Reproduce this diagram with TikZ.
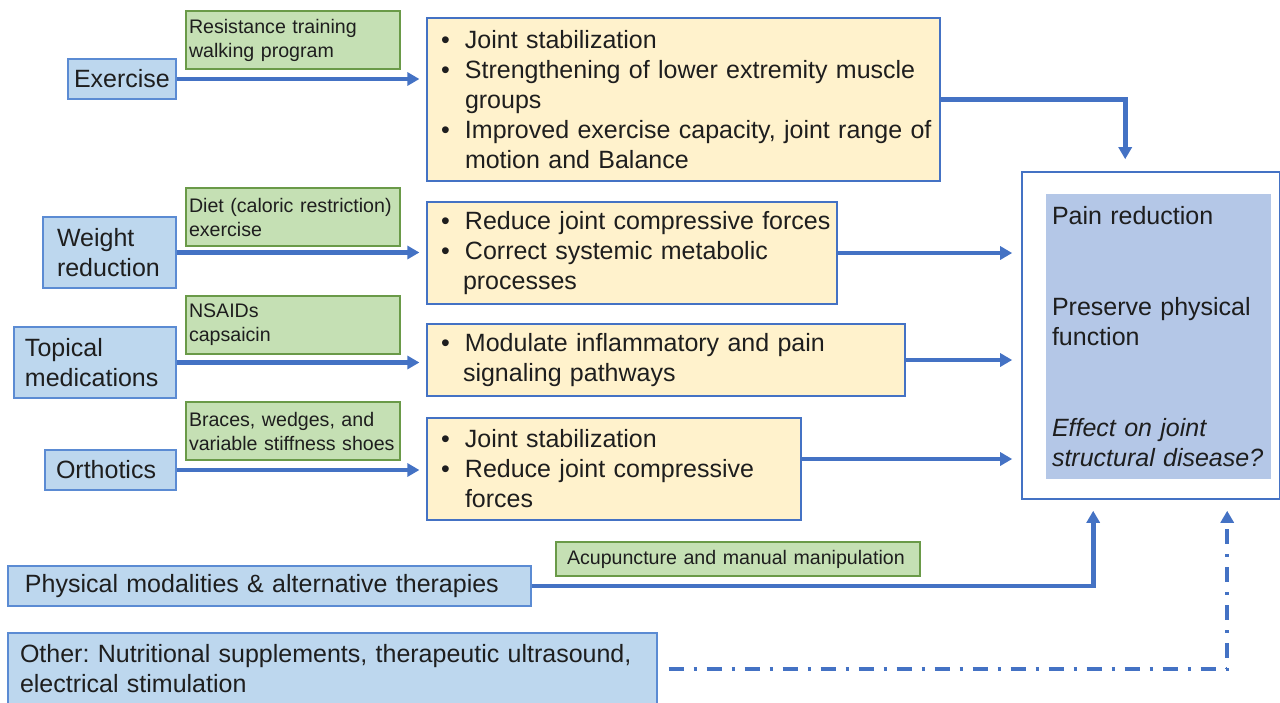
\documentclass[tikz,border=0pt]{standalone}
\usepackage{fontspec}
\setmainfont{Liberation Sans}
\frenchspacing
\usetikzlibrary{arrows.meta,positioning,calc}
\definecolor{cLink}{HTML}{4472C4}
\definecolor{cSrc} {HTML}{BDD7EE}
\definecolor{cSrcE}{HTML}{5B8BD3}
\definecolor{cHow} {HTML}{C5E0B4}
\definecolor{cHowE}{HTML}{6A9A48}
\definecolor{cEff} {HTML}{FFF2CC}
\definecolor{cRes} {HTML}{B4C7E7}
\definecolor{cTxt} {HTML}{1E1E1E}
\newcommand\bline[1]{\makebox[12pt][l]{\textbullet}\mbox{#1}}
\newcommand\bcont[1]{\hspace*{12pt}\mbox{#1}}
\tikzset{
  box/.style  ={draw,align=left,text=cTxt,line width=0.6pt,inner ysep=2pt,
                font=\fontsize{12.5}{15}\selectfont},
  src/.style  ={box,draw=cSrcE,fill=cSrc,inner xsep=5.5pt},
  how/.style  ={box,draw=cHowE,fill=cHow,inner xsep=1.5pt,text width=104pt,
                minimum height=29pt,font=\fontsize{9.8}{12}\selectfont},
  eff/.style  ={box,draw=cLink,fill=cEff,inner xsep=7pt},
  link/.style ={-{Triangle[length=6pt,width=6.5pt]},draw=cLink,line width=2.3pt},
}

\begin{document}
\begin{tikzpicture}[x=0.5pt, y=-0.5pt]
\useasboundingbox (0,0) rectangle (1280,702);

% interventions
\node[src,text width=48pt,inner xsep=3pt,minimum height=20pt] (ex)   at (122,79)    {Exercise};
\node[src,text width=52.5pt,inner xsep=7pt,minimum height=35.5pt] (wt) at (109.5,252.5) {Weight\\reduction};
\node[src,text width=70pt,minimum height=35.5pt] (top)  at (95,362.5)  {Topical\\medications};
\node[src,text width=54.5pt,minimum height=20pt] (orth) at (110.5,470) {Orthotics};
\node[src,text width=244.5pt,inner xsep=8.5pt,minimum height=20pt] (phys) at (269.5,586)
  {Physical modalities \& alternative therapies};
\node[src,text width=312.5pt,inner xsep=6pt,minimum height=36pt] (oth) at (332.5,669)
  {Other: Nutritional supplements, therapeutic ultrasound,\\electrical stimulation};

% examples
\node[how] (h1) at (293,40)  {Resistance training\\walking program};
\node[how] (h2) at (293,217) {Diet (caloric restriction)\\exercise};
\node[how] (h3) at (293,325) {NSAIDs\\capsaicin};
\node[how] (h4) at (293,431) {Braces, wedges, and\\variable stiffness shoes};
\node[how,text width=171pt,inner xsep=5.5pt,minimum height=17pt] (h5) at (738,559)
  {Acupuncture and manual manipulation};

% mechanisms
\node[eff,text width=242.5pt,minimum height=81.5pt] (b1) at (683.5,99.5)
  {\bline{Joint stabilization}\\
   \bline{Strengthening of lower extremity muscle}\\
   \bcont{groups}\\
   \bline{Improved exercise capacity, joint range of}\\
   \bcont{motion and Balance}};
\node[eff,text width=191pt,minimum height=51pt] (b2) at (632,253)
  {\bline{Reduce joint compressive forces}\\
   \bline{Correct systemic metabolic}\\
   \hspace*{11pt}\mbox{processes}};
\node[eff,text width=225pt,minimum height=36pt] (b3) at (666,360)
  {\bline{Modulate inflammatory and pain}\\
   \hspace*{11pt}\mbox{signaling pathways}};
\node[eff,text width=173pt,minimum height=51pt] (b4) at (614,469)
  {\bline{Joint stabilization}\\
   \bline{Reduce joint compressive}\\
   \bcont{forces}};

% outcomes
\node[draw=cLink,line width=0.8pt,minimum width=129pt,minimum height=163.5pt,
      inner sep=0pt] (out) at (1151,335.5) {};
\node[box,draw=none,fill=cRes,text width=106.5pt,inner xsep=3pt,
      minimum height=142.5pt] (res) at (1158.5,336.5)
  {Pain reduction\\[30.5pt]
   Preserve physical\\function\\[30.5pt]
   {\itshape Effect on joint}\\{\itshape structural disease?}};

\foreach \a/\b in {ex/b1,wt/b2,top/b3,orth/b4}{%
  \draw[link,shorten >=3.5pt] (\a.east) -- (\a.east -| \b.west);}
\foreach \a in {b2,b3}{%
  \draw[link,shorten >=4.5pt] (\a.east) -- (\a.east -| out.west);}
\draw[link,shorten >=4.5pt] ([yshift=5pt]b4.east) -- ([yshift=5pt]b4.east -| out.west);
\draw[link,shorten >=6pt] (b1.east) -| ([xshift=52pt]out.north west);
\draw[link,shorten >=5.5pt] (phys.east) -| ([xshift=36pt]out.south west);
\draw[link,line width=2pt,dash pattern=on 7.5pt off 5pt on 1.5pt off 5pt,
      shorten <=5.5pt,shorten >=5.5pt] (oth.east) -| ([xshift=103pt]out.south west);
\end{tikzpicture}
\end{document}
